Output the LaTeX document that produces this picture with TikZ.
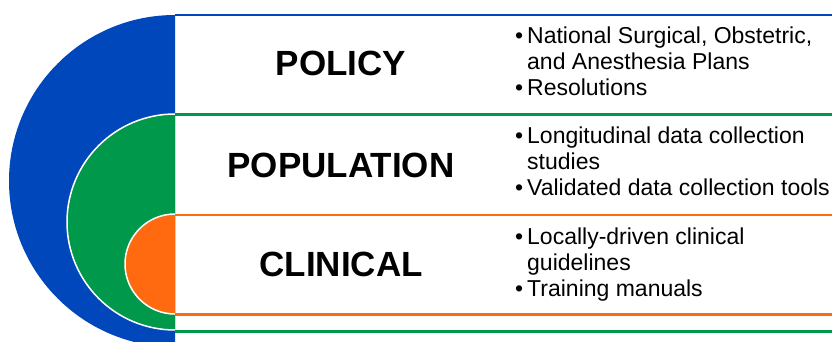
\documentclass[tikz,border=0pt]{standalone}
\usepackage{fontspec}
\setmainfont{Liberation Sans}
\usetikzlibrary{calc}
\definecolor{polblue}{HTML}{0047BB}
\definecolor{popgreen}{HTML}{00984A}
\definecolor{clinorange}{HTML}{FF6A10}
\newcommand{\itembullet}{\makebox[12pt][l]{•}}
\newcommand{\itemhang}{\hspace*{12pt}}
\begin{document}
\begin{tikzpicture}[x=1pt,y=-1pt,
  heading/.style={anchor=base,inner sep=0pt,font=\bfseries\fontsize{35}{40}\selectfont},
  items/.style={anchor=base west,align=left,inner sep=0pt,font=\fontsize{23}{26}\selectfont}]
\useasboundingbox[fill=white] (0,0) rectangle (832,342);
% Centres of the half discs
\coordinate (cblue) at (175,181);
\coordinate (cgreen) at (175,222);
\coordinate (corange) at (175,264);
% Half discs left of the rows
\begin{scope}
\clip (0,0) rectangle (175,342);
\fill[polblue] (cblue) circle[radius=166];
\filldraw[fill=popgreen,draw=white,line width=1.5pt] (cgreen) circle[radius=108];
\filldraw[fill=clinorange,draw=white,line width=1.5pt] (corange) circle[radius=50];
\end{scope}
% Row borders
\draw[polblue,line width=2.2pt] (175,15) -- (832,15);
\draw[popgreen,line width=2.2pt] (175,114.5) -- (832,114.5);
\draw[clinorange,line width=2.2pt] (175,215) -- (832,215);
\draw[clinorange,line width=2.2pt] (175,314.5) -- (832,314.5);
\draw[popgreen,line width=2.2pt] (175,331.5) -- (832,331.5);
% Row titles
\node[heading] (policy) at (341,76) {POLICY};
\node[heading] (population) at (341,177) {POPULATION};
\node[heading] (clinical) at (341,276) {CLINICAL};
% Bullet lists (base is the last line)
\node[items] (policyitems) at (515,96)
  {\itembullet National Surgical, Obstetric,\\\itemhang and Anesthesia Plans\\\itembullet Resolutions};
\node[items] (populationitems) at (515,195)
  {\itembullet Longitudinal data collection\\\itemhang studies\\\itembullet Validated data collection tools};
\node[items] (clinicalitems) at (515,296)
  {\itembullet Locally-driven clinical\\\itemhang guidelines\\\itembullet Training manuals};
\end{tikzpicture}
\end{document}
